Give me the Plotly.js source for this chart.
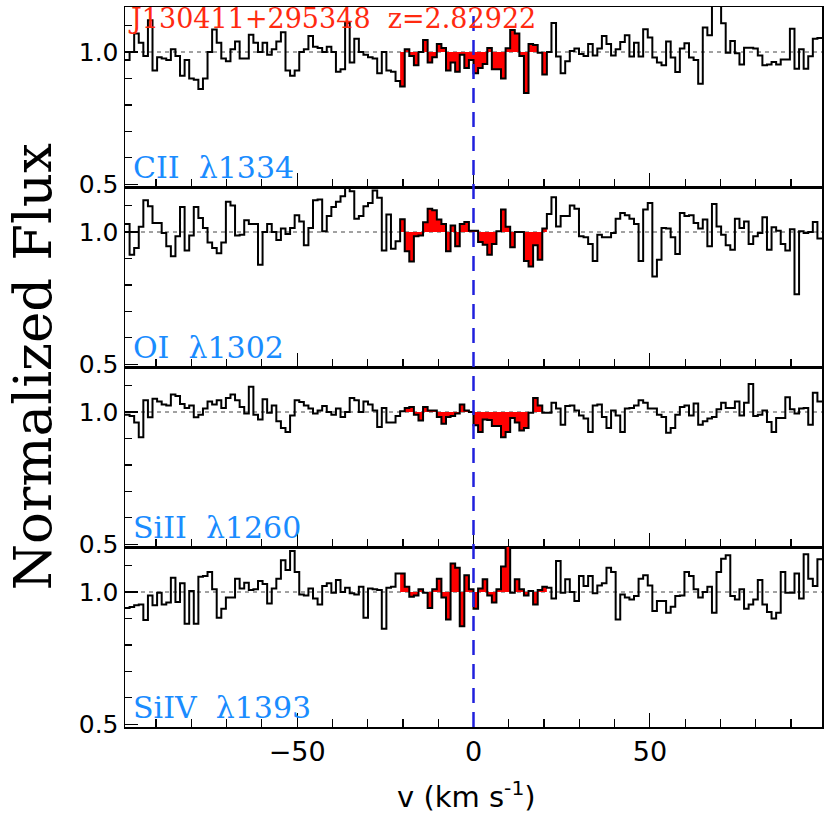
<!DOCTYPE html>
<html>
<head>
<meta charset="utf-8">
<script src="https://cdn.plot.ly/plotly-3.0.1.min.js"></script>
<style>
  html, body { margin: 0; padding: 0; background: #fff; }
  #plot { width: 830px; height: 830px; }
</style>
</head>
<body>
<div id="plot"></div>
<script>
// pixel grid of the spectra (km/s): first bin edge and bin width
const binStart = -98.8;
const binWidth = 1.3;

const ions = ['CII  \u03bb1334', 'OI  \u03bb1302', 'SiII  \u03bb1260', 'SiIV  \u03bb1393'];

// normalized flux per pixel (152 pixels per line)
const fluxCII = [
  0.97, 1.0, 1.07, 1.035, 0.985, 1.12, 0.93, 0.98, 0.975, 0.97,
  1.01, 0.985, 0.91, 0.97, 0.9, 0.895, 0.86, 0.9, 1.0, 1.085,
  1.035, 0.975, 0.965, 1.01, 1.04, 0.975, 0.975, 1.065, 1.035, 1.0,
  1.035, 0.99, 1.01, 1.04, 1.075, 0.93, 0.91, 0.93, 1.0, 1.01,
  1.06, 1.02, 1.015, 1.0, 1.02, 1.0, 0.925, 0.935, 1.11, 0.96,
  1.05, 1.0, 0.99, 0.98, 0.975, 0.92, 1.0, 0.93, 0.925, 0.89,
  0.87, 1.01, 0.985, 0.95, 1.0, 1.045, 0.96, 0.98, 1.03, 1.015,
  0.93, 0.96, 0.925, 0.99, 0.94, 0.97,
  0.92, 0.94, 0.955, 1.015, 0.935, 0.935, 0.9, 1.014, 1.083, 1.07,
  0.985, 0.845, 1.03, 1.026, 0.997, 0.915, 1.0, 1.11, 0.983, 0.92,
  0.965, 1.004, 1.013, 0.992, 0.985, 1.03, 0.987, 1.013, 1.06, 1.03,
  0.987, 1.01, 1.038, 1.063, 0.983, 1.035, 0.983, 1.086, 1.055, 0.979,
  0.96, 0.95, 1.04, 0.979, 0.924, 1.013, 1.033, 0.979, 0.97, 0.88,
  1.093, 1.063, 1.2, 1.2, 1.109, 0.997, 1.042, 0.995, 0.953, 1.016,
  1.016, 1.013, 0.987, 0.95, 0.953, 0.962, 0.953, 0.972, 0.972, 1.088,
  0.937, 1.01, 0.937, 0.984, 1.05, 1.053
];
const fluxOI = [
  1.03, 0.914, 0.94, 1.02, 1.12, 1.097, 1.034, 1.034, 0.996, 0.946,
  0.908, 0.984, 1.094, 0.93, 0.987, 1.094, 1.053, 1.015, 0.96, 0.94,
  0.92, 0.96, 1.114, 1.1, 0.987, 0.99, 1.044, 1.03, 1.03, 0.876,
  1.0, 1.03, 1.0, 0.97, 1.013, 0.992, 1.015, 1.063, 1.04, 0.95,
  1.015, 1.12, 1.123, 1.003, 1.06, 1.094, 1.114, 1.135, 1.167, 1.154,
  1.05, 1.06, 1.097, 1.11, 1.157, 1.129, 0.93, 1.066, 0.937, 0.965,
  1.048, 0.927, 0.889, 0.984, 0.987, 1.037, 1.088, 1.082, 1.047, 1.03,
  0.927, 1.025, 0.946, 1.03, 1.038, 1.005,
  1.005, 0.962, 0.952, 0.914, 0.955, 1.003, 1.085, 1.02, 0.942, 1.0,
  1.0, 0.89, 0.87, 0.95, 0.895, 1.013, 1.068, 1.131, 1.021, 1.06,
  1.06, 1.1, 1.088, 0.984, 0.98, 0.955, 0.89, 0.99, 0.98, 0.98,
  0.996, 1.05, 1.072, 1.063, 1.05, 1.03, 0.89, 1.085, 1.11, 0.832,
  0.895, 1.015, 1.013, 0.98, 0.917, 1.072, 1.06, 1.063, 1.034, 1.013,
  1.047, 0.946, 1.106, 1.021, 0.99, 0.95, 0.933, 1.05, 1.015, 1.04,
  0.955, 0.984, 0.996, 1.056, 0.933, 1.018, 1.005, 0.955, 0.93, 1.01,
  0.765, 1.003, 0.996, 1.0, 1.038, 0.975
];
const fluxSiII = [
  0.99, 0.985, 0.96, 0.905, 1.044, 0.98, 1.05, 1.04, 1.028, 1.025,
  1.066, 1.06, 1.03, 1.015, 1.025, 0.98, 0.99, 1.013, 1.04, 1.028,
  1.044, 1.015, 1.053, 1.066, 1.044, 1.019, 0.994, 1.095, 0.99, 0.972,
  1.048, 0.997, 1.025, 0.965, 0.94, 0.924, 0.987, 1.044, 1.038, 1.025,
  1.013, 0.994, 1.006, 1.023, 1.0, 0.99, 1.013, 0.981, 1.0, 1.053,
  1.044, 1.0, 1.04, 1.028, 1.006, 0.943, 1.015, 0.96, 0.96, 0.985,
  1.003, 1.015, 1.019, 0.99, 0.968, 1.019, 1.006, 1.006, 0.981, 0.956,
  0.981, 0.985, 0.994, 1.028, 1.006, 1.0,
  0.95, 0.924, 0.972, 0.97, 0.947, 0.947, 0.905, 0.924, 0.977, 0.96,
  0.93, 0.94, 0.997, 1.053, 1.025, 0.997, 0.997, 1.035, 1.013, 0.952,
  1.023, 1.025, 1.006, 0.987, 0.975, 0.924, 1.025, 1.028, 0.981, 0.94,
  1.006, 0.987, 0.924, 1.013, 1.015, 1.025, 1.044, 1.035, 1.013, 1.013,
  0.99, 0.981, 0.922, 0.94, 0.99, 1.019, 1.025, 0.987, 1.032, 0.952,
  0.965, 0.975, 0.981, 1.01, 1.035, 1.015, 1.015, 1.04, 0.987, 1.035,
  1.106, 0.985, 0.99, 1.006, 0.962, 0.924, 0.977, 0.977, 1.056, 1.01,
  0.994, 1.013, 1.015, 0.952, 1.073, 1.04
];
const fluxSiIV = [
  0.94, 0.943, 0.95, 0.953, 0.894, 0.987, 0.95, 0.997, 0.953, 0.96,
  1.054, 0.962, 1.033, 0.88, 1.004, 0.88, 1.058, 1.06, 1.076, 1.01,
  0.903, 0.937, 0.979, 0.979, 1.05, 1.013, 1.035, 1.008, 1.01, 1.042,
  1.03, 0.957, 1.013, 1.05, 1.12, 1.083, 1.155, 1.076, 0.991, 0.987,
  1.013, 0.975, 0.953, 1.023, 1.033, 0.997, 1.045, 1.0, 1.016, 0.995,
  0.991, 1.02, 0.903, 1.013, 1.01, 1.008, 0.861, 1.016, 1.02, 1.07,
  1.07, 1.02, 0.982, 0.987, 1.01, 0.997, 0.94, 1.01, 1.05, 0.979,
  0.896, 1.108, 1.092, 0.871, 1.063, 1.01,
  0.937, 1.013, 1.048, 0.987, 0.96, 1.01, 1.096, 1.2, 0.997, 1.048,
  1.01, 0.987, 1.004, 0.953, 1.008, 1.02, 1.016, 0.975, 1.117, 0.997,
  1.048, 1.0, 0.966, 1.06, 1.023, 1.06, 0.995, 1.025, 1.033, 1.092,
  1.076, 0.896, 0.991, 0.979, 0.972, 0.985, 1.05, 1.063, 1.025, 0.928,
  0.966, 0.966, 0.922, 0.944, 0.985, 0.987, 1.076, 1.06, 1.01, 0.979,
  1.0, 1.02, 0.922, 1.076, 1.126, 1.139, 0.985, 0.972, 1.01, 0.937,
  0.953, 0.972, 1.045, 0.953, 0.924, 0.9, 0.922, 1.076, 0.997, 0.997,
  1.07, 0.975, 1.143, 1.05, 1.023, 1.124
];

const spectra = [fluxCII, fluxOI, fluxSiII, fluxSiIV];

// pixels highlighted in red (absorption window, -20..+20 km/s)
const redFirst = 60;
const redLast = 91;

const edges = [];
for (let k = 0; k <= fluxCII.length; k++) edges.push(+(binStart + k * binWidth).toFixed(2));

const traces = [];
const nPanels = spectra.length;

spectra.forEach((flux, i) => {
    const xa = i === 0 ? 'x' : 'x' + (i + 1);
    const ya = i === 0 ? 'y' : 'y' + (i + 1);
    const yStep = flux.concat([flux[flux.length - 1]]);

    // continuum baseline for the red fill
    traces.push({
        x: [edges[redFirst], edges[redLast + 1]],
        y: [1, 1],
        xaxis: xa, yaxis: ya,
        mode: 'lines', line: { width: 0, shape: 'hv' },
        hoverinfo: 'skip', showlegend: false
    });
    const redFlux = flux.slice(redFirst, redLast + 1);
    traces.push({
        x: edges.slice(redFirst, redLast + 2),
        y: redFlux.concat([redFlux[redFlux.length - 1]]),
        xaxis: xa, yaxis: ya,
        mode: 'lines', line: { width: 0, shape: 'hv', color: 'red' },
        fill: 'tonexty', fillcolor: '#ff0000',
        hoverinfo: 'skip', showlegend: false
    });
    traces.push({
        x: edges,
        y: yStep,
        xaxis: xa, yaxis: ya,
        mode: 'lines', line: { width: 2, shape: 'hv', color: 'black' },
        showlegend: false
    });
});

const sansFamily = 'DejaVu Sans, Liberation Sans, Arial, sans-serif';
const serifFamily = 'DejaVu Serif, serif';
const xRange = [-98.8, 98.8];
const yRange = [0.49, 1.17];

const layout = {
    width: 830, height: 830,
    margin: { l: 125, r: 8, t: 7, b: 103 },
    paper_bgcolor: 'white', plot_bgcolor: 'white',
    showlegend: false,
    shapes: [],
    annotations: []
};

const xTicks = {
    range: xRange, tick0: 0, dtick: 50,
    ticks: 'inside', ticklen: 14, tickwidth: 1.2, tickcolor: 'black',
    minor: { dtick: 10, ticks: 'inside', ticklen: 8, tickwidth: 1.2, tickcolor: 'black' },
    showgrid: false, zeroline: false
};
const yTicks = {
    range: yRange, tick0: 0, dtick: 0.5, tickformat: '.1f',
    ticks: 'inside', ticklen: 13, tickwidth: 1.2, tickcolor: 'black',
    minor: { dtick: 0.1, ticks: 'inside', ticklen: 7, tickwidth: 1.2, tickcolor: 'black' },
    showgrid: false, zeroline: false
};

for (let i = 0; i < nPanels; i++) {
    const sfx = i === 0 ? '' : String(i + 1);
    const top = 1 - i / nPanels;
    const bottom = 1 - (i + 1) / nPanels;
    const isBottom = i === nPanels - 1;
    layout['xaxis' + sfx] = Object.assign({}, xTicks, {
        domain: [0, 1],
        anchor: 'y' + sfx,
        showline: true, linecolor: 'black', linewidth: 1.5, mirror: true,
        showticklabels: isBottom,
        tickfont: { family: sansFamily, size: 27, color: 'black' }
    });
    layout['yaxis' + sfx] = Object.assign({}, yTicks, {
        domain: [bottom, top],
        anchor: 'x' + sfx,
        showline: true, linecolor: 'black', linewidth: 1.5, mirror: true,
        tickfont: { family: sansFamily, size: 25, color: 'black' }
    });
    // tick marks on the top and right edges of every panel
    const ox = 'xaxis' + (nPanels + 1 + i);
    const oy = 'yaxis' + (nPanels + 1 + i);
    layout[ox] = Object.assign({}, xTicks, {
        overlaying: 'x' + sfx, anchor: 'y' + sfx, side: 'top',
        showline: false, showticklabels: false
    });
    layout[oy] = Object.assign({}, yTicks, {
        overlaying: 'y' + sfx, anchor: 'x' + sfx, side: 'right',
        showline: false, showticklabels: false
    });
    // continuum level
    layout.shapes.push({
        type: 'line', xref: 'x' + sfx + ' domain', yref: 'y' + sfx,
        x0: 0, x1: 1, y0: 1, y1: 1,
        line: { color: '#444', width: 1, dash: '4px,4px' }, layer: 'below'
    });
    layout.annotations.push({
        text: ions[i],
        xref: 'x' + sfx + ' domain', yref: 'y' + sfx + ' domain',
        x: 0.008, y: 0.0, xanchor: 'left', yanchor: 'bottom',
        showarrow: false,
        font: { family: serifFamily, size: 30, color: '#1a8cff' }
    });
}

// systemic velocity marker
layout.shapes.push({
    type: 'line', xref: 'x', yref: 'paper',
    x0: 0, x1: 0, y0: 0, y1: 1,
    line: { color: '#2020dd', width: 2.5, dash: '15px,9px' }
});

layout.annotations.push({
    text: 'J130411+295348  z=2.82922',
    xref: 'paper', yref: 'paper', x: 0.002, y: 1.008,
    xanchor: 'left', yanchor: 'top', showarrow: false,
    font: { family: serifFamily, size: 27, color: '#ff2a10' }
});
layout.annotations.push({
    text: 'Normalized Flux',
    xref: 'paper', yref: 'paper', x: -0.133, y: 0.5,
    xanchor: 'center', yanchor: 'middle', textangle: -90, showarrow: false,
    font: { family: serifFamily, size: 53, color: 'black' }
});
layout.annotations.push({
    text: 'v (km s<sup>-1</sup>)',
    xref: 'paper', yref: 'paper', x: 0.49, y: -0.094,
    xanchor: 'center', yanchor: 'middle', showarrow: false,
    font: { family: sansFamily, size: 29, color: 'black' }
});

Plotly.newPlot('plot', traces, layout, { staticPlot: true });
</script>
</body>
</html>
